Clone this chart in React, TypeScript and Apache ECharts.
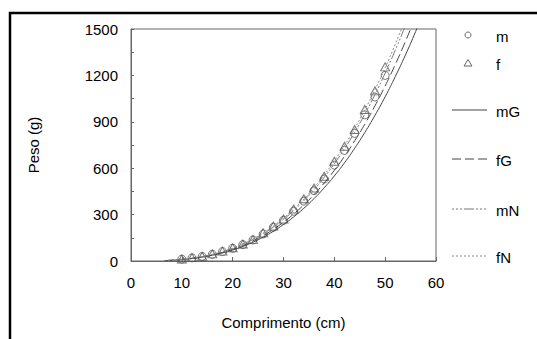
import React, { useEffect, useRef } from "react";
import * as echarts from "echarts";

// Observed lengths (cm) and weights (g)
const pointLengths = [10, 12, 14, 16, 18, 20, 22, 24, 26, 28, 30, 32, 34, 36, 38, 40, 42, 44, 46, 48, 50];
const mWeights = [12, 20, 29, 43, 61, 82, 106, 136, 175, 218, 263, 322, 387, 455, 530, 620, 715, 825, 945, 1060, 1200];
const fWeights = [13, 22, 31, 46, 64, 86, 110, 140, 182, 226, 272, 336, 402, 472, 548, 645, 742, 850, 980, 1100, 1255];

// Fitted curves
const curveLengths = [6.5, 8, 10, 12, 14, 16, 18, 20, 22, 24, 26, 28, 30, 32, 34, 36, 38, 40, 42, 44, 46, 48, 50, 52, 54, 56, 58];
const mG = [2, 5, 9, 16, 25, 37, 52, 71, 94, 122, 154, 192, 236, 285, 341, 403, 473, 550, 635, 729, 831, 942, 1062, 1193, 1333, 1484, 1646];
const fG = [2, 5, 10, 17, 27, 39, 56, 76, 100, 130, 164, 205, 251, 304, 363, 429, 504, 586, 677, 777, 885, 1004, 1132, 1271, 1421, 1582, 1754];
const mN = [2, 5, 11, 18, 28, 42, 60, 81, 108, 139, 176, 220, 269, 326, 390, 461, 541, 629, 726, 833, 950, 1077, 1215, 1364, 1524, 1697, 1882];
const fN = [2, 6, 11, 19, 29, 43, 61, 84, 111, 143, 181, 226, 277, 335, 400, 474, 556, 647, 747, 857, 977, 1108, 1249, 1403, 1567, 1745, 1935];

const xTitle = "Comprimento (cm)";
const yTitle = "Peso (g)";

const FONT = "'Liberation Sans', Arial, sans-serif";
const FS = 15;

const dashFG = [9, 4];
const dashMN = [2, 2, 2, 2, 2, 2, 10, 2];
const dashFN = [2, 2];

export default function App() {
  const ref = useRef<HTMLDivElement>(null);
  useEffect(() => {
    if (!ref.current) return;
    const chart = echarts.init(ref.current, undefined, { renderer: "svg" });
    const pair = (xs: number[], ys: number[]) => xs.map((x, i) => [x, ys[i]]);
    const lineSeries = (name: string, ys: number[], type: any, color: string) => ({
      name,
      type: "line",
      data: pair(curveLengths, ys),
      smooth: true,
      showSymbol: false,
      symbol: "none",
      lineStyle: { color, width: 1, type },
      clip: true,
      z: 3,
    });
    const legendY = { m: 35, f: 63, mG: 110, fG: 159, mN: 209, fN: 256 };
    const textStyle = { fill: "#000", font: `${FS}px ${FONT}`, verticalAlign: "middle" };
    chart.setOption({
      animation: false,
      backgroundColor: "#fff",
      grid: {
        left: 131,
        right: 101,
        top: 29,
        bottom: 78,
        show: true,
        borderColor: "#666",
        borderWidth: 1,
      },
      xAxis: {
        type: "value",
        min: 0,
        max: 60,
        interval: 10,
        name: xTitle,
        nameLocation: "middle",
        nameGap: 54,
        nameTextStyle: { fontFamily: FONT, fontSize: FS, color: "#000" },
        axisLine: { lineStyle: { color: "#666" } },
        axisTick: { inside: true, length: 4, lineStyle: { color: "#666" } },
        axisLabel: { fontFamily: FONT, fontSize: FS, color: "#000", margin: 14 },
        splitLine: { show: false },
      },
      yAxis: {
        type: "value",
        min: 0,
        max: 1500,
        interval: 300,
        name: yTitle,
        nameLocation: "middle",
        nameGap: 90,
        nameTextStyle: { fontFamily: FONT, fontSize: FS, color: "#000" },
        axisLine: { show: true, lineStyle: { color: "#666" } },
        axisTick: { show: true, inside: true, length: 3, lineStyle: { color: "#666" } },
        minorTick: { show: true, splitNumber: 2, length: 3, lineStyle: { color: "#666" } },
        axisLabel: { fontFamily: FONT, fontSize: FS, color: "#000", margin: 13, formatter: (v: number) => String(v) },
        splitLine: { show: false },
      },
      series: [
        {
          name: "m",
          type: "scatter",
          data: pair(pointLengths, mWeights),
          symbol: "circle",
          symbolSize: 8,
          itemStyle: { color: "rgba(255,255,255,0)", borderColor: "#555", borderWidth: 1 },
          z: 2,
        },
        {
          name: "f",
          type: "scatter",
          data: pair(pointLengths, fWeights),
          symbol: "triangle",
          symbolSize: [9, 8],
          itemStyle: { color: "rgba(255,255,255,0)", borderColor: "#555", borderWidth: 1 },
          z: 2,
        },
        lineSeries("mG", mG, "solid", "#444"),
        lineSeries("fG", fG, dashFG, "#444"),
        lineSeries("mN", mN, dashMN, "#777"),
        lineSeries("fN", fN, dashFN, "#888"),
      ],
      graphic: [
        {
          type: "polyline",
          shape: { points: [[10, 339], [10, 13], [540, 13]] },
          style: { stroke: "#000", lineWidth: 2.5, fill: "none" },
          silent: true,
        },
        { type: "circle", shape: { cx: 468, cy: legendY.m, r: 3 }, style: { fill: "none", stroke: "#666", lineWidth: 1 } },
        { type: "polygon", shape: { points: [[468, legendY.f - 3.5], [472, legendY.f + 3], [464, legendY.f + 3]] }, style: { fill: "none", stroke: "#666", lineWidth: 1 } },
        { type: "line", shape: { x1: 452, y1: legendY.mG, x2: 487, y2: legendY.mG }, style: { stroke: "#444", lineWidth: 1 } },
        { type: "line", shape: { x1: 452, y1: legendY.fG, x2: 487, y2: legendY.fG }, style: { stroke: "#444", lineWidth: 1, lineDash: dashFG } },
        { type: "line", shape: { x1: 452, y1: legendY.mN, x2: 487, y2: legendY.mN }, style: { stroke: "#777", lineWidth: 1, lineDash: dashMN } },
        { type: "line", shape: { x1: 452, y1: legendY.fN, x2: 487, y2: legendY.fN }, style: { stroke: "#888", lineWidth: 1, lineDash: dashFN } },
        { type: "text", x: 496, y: legendY.m + 1, style: { ...textStyle, text: "m" } },
        { type: "text", x: 496, y: legendY.f + 1, style: { ...textStyle, text: "f" } },
        { type: "text", x: 496, y: legendY.mG + 1, style: { ...textStyle, text: "mG" } },
        { type: "text", x: 496, y: legendY.fG + 1, style: { ...textStyle, text: "fG" } },
        { type: "text", x: 496, y: legendY.mN + 1, style: { ...textStyle, text: "mN" } },
        { type: "text", x: 496, y: legendY.fN + 1, style: { ...textStyle, text: "fN" } },
      ],
    });
    return () => chart.dispose();
  }, []);
  return <div ref={ref} style={{ width: 537, height: 339, position: "absolute", left: 0, top: 0 }} />;
}
